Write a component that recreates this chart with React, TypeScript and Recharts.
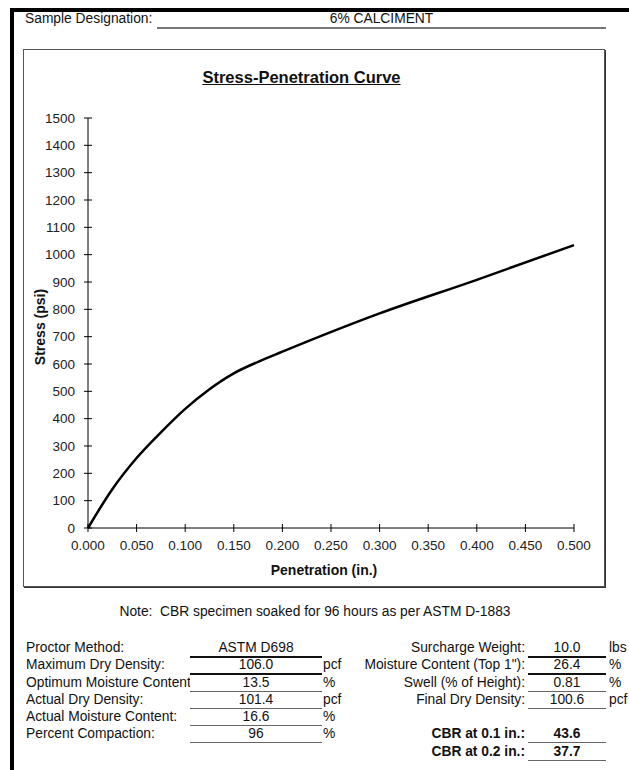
import { LineChart, Line, XAxis, YAxis, Label } from "recharts";

// stress-penetration readings
const penetration = [0, 0.025, 0.05, 0.075, 0.1, 0.125, 0.15, 0.175, 0.2, 0.3, 0.4, 0.5];
const stress = [0, 142, 256, 350, 436, 508, 566, 608, 645, 785, 908, 1035];

const xTicks = [0, 0.05, 0.1, 0.15, 0.2, 0.25, 0.3, 0.35, 0.4, 0.45, 0.5];
const yTicks = [0, 100, 200, 300, 400, 500, 600, 700, 800, 900, 1000, 1100, 1200, 1300, 1400, 1500];

const sampleName = "6% CALCIMENT";
const note = "Note:  CBR specimen soaked for 96 hours as per ASTM D-1883";

const leftLabels = [
  "Proctor Method:",
  "Maximum Dry Density:",
  "Optimum Moisture Content",
  "Actual Dry Density:",
  "Actual Moisture Content:",
  "Percent Compaction:",
];
const leftValues = ["ASTM D698", "106.0", "13.5", "101.4", "16.6", "96"];
const leftUnits = ["", "pcf", "%", "pcf", "%", "%"];

const rightLabels = ["Surcharge Weight:", 'Moisture Content (Top 1"):', "Swell (% of Height):", "Final Dry Density:"];
const rightValues = ["10.0", "26.4", "0.81", "100.6"];
const rightUnits = ["lbs", "%", "%", "pcf"];

const cbrLabels = ["CBR at 0.1 in.:", "CBR at 0.2 in.:"];
const cbrValues = ["43.6", "37.7"];

const curve = penetration.map((p, i) => ({ penetration: p, stress: stress[i] }));

const FONT = '"Liberation Sans", Arial, sans-serif';
const rowY = [648, 665, 682.5, 700, 716.5, 734, 752];

const XTick = (props: any) => {
  const { x, y, payload } = props;
  return (
    <g>
      <line x1={x} x2={x} y1={y - 4} y2={y + 4} stroke="#000" />
      <text x={x} y={y + 22} textAnchor="middle" fontSize={13.5} fill="#222" fontFamily={FONT}>
        {Number(payload.value).toFixed(3)}
      </text>
    </g>
  );
};

const YTick = (props: any) => {
  const { x, y, payload } = props;
  return (
    <g>
      <line x1={x - 4} x2={x + 4} y1={y} y2={y} stroke="#000" />
      <text x={x - 13} y={y + 4.8} textAnchor="end" fontSize={13.5} fill="#222" fontFamily={FONT}>
        {payload.value}
      </text>
    </g>
  );
};

function Txt({
  x,
  cy,
  children,
  align = "left",
  width,
  bold,
  clip,
}: {
  x: number;
  cy: number;
  children: any;
  align?: "left" | "right" | "center";
  width?: number;
  bold?: boolean;
  clip?: boolean;
}) {
  const w = width ?? 300;
  const left = align === "left" ? x : align === "right" ? x - w : x - w / 2;
  return (
    <div
      style={{
        position: "absolute",
        left,
        top: cy - 8,
        width: w,
        height: 16,
        lineHeight: "16px",
        fontSize: 13.8,
        fontWeight: bold ? "bold" : "normal",
        textAlign: align,
        whiteSpace: "pre",
        overflow: clip ? "hidden" : "visible",
        color: "#111",
      }}
    >
      {children}
    </div>
  );
}

function Rule({ x1, x2, y, heavy }: { x1: number; x2: number; y: number; heavy?: boolean }) {
  return (
    <div
      style={{
        position: "absolute",
        left: x1,
        top: y,
        width: x2 - x1,
        height: heavy ? 2 : 1,
        background: heavy ? "#111" : "#666",
      }}
    />
  );
}

export default function App() {
  return (
    <div
      style={{
        position: "absolute",
        left: 0,
        top: 0,
        width: 629,
        height: 770,
        background: "#fff",
        fontFamily: FONT,
        overflow: "hidden",
      }}
    >
      {/* sheet frame */}
      <div style={{ position: "absolute", left: 10, top: 8, width: 619, height: 4, background: "#000" }} />
      <div style={{ position: "absolute", left: 10, top: 8, width: 4, height: 762, background: "#000" }} />

      <Txt x={25} cy={19}>Sample Designation:</Txt>
      <Txt x={381.5} cy={19} align="center">
        {sampleName}
      </Txt>
      <div style={{ position: "absolute", left: 157, top: 27, width: 449, height: 1.5, background: "#777" }} />

      {/* chart frame */}
      <div
        style={{
          position: "absolute",
          left: 23,
          top: 49,
          width: 580,
          height: 536,
          border: "1px solid #555",
          boxShadow: "1px 1px 0 #333",
        }}
      />
      <div
        style={{
          position: "absolute",
          left: 0,
          top: 68,
          width: 603,
          textAlign: "center",
          fontSize: 16.5,
          fontWeight: "bold",
          textDecoration: "underline",
          lineHeight: "18px",
          color: "#111",
        }}
      >
        Stress-Penetration Curve
      </div>

      <div style={{ position: "absolute", left: 24, top: 50, width: 579, height: 535 }}>
        <LineChart width={579} height={535} data={curve} margin={{ top: 68, right: 29, bottom: 7, left: 0 }}>
          <XAxis
            type="number"
            dataKey="penetration"
            domain={[0, 0.5]}
            ticks={xTicks}
            tick={XTick}
            tickLine={false}
            tickSize={0}
            tickMargin={0}
            axisLine={{ stroke: "#000" }}
            height={50}
            interval={0}
          >
            <Label
              content={(p: any) => {
                const vb = p.viewBox;
                return (
                  <text
                    x={vb.x + vb.width / 2 - 7}
                    y={vb.y + 47}
                    textAnchor="middle"
                    fontSize={14}
                    fontWeight="bold"
                    fill="#111"
                    fontFamily={FONT}
                  >
                    Penetration (in.)
                  </text>
                );
              }}
            />
          </XAxis>
          <YAxis
            type="number"
            domain={[0, 1500]}
            ticks={yTicks}
            tick={YTick}
            tickLine={false}
            tickSize={0}
            tickMargin={0}
            axisLine={{ stroke: "#000" }}
            width={64}
            interval={0}
          >
            <Label
              content={(p: any) => {
                const vb = p.viewBox;
                const cy = vb.y + vb.height / 2 + 4;
                return (
                  <text
                    transform={`translate(${vb.x + 20.5}, ${cy}) rotate(-90)`}
                    textAnchor="middle"
                    fontSize={14}
                    fontWeight="bold"
                    fill="#111"
                    fontFamily={FONT}
                  >
                    Stress (psi)
                  </text>
                );
              }}
            />
          </YAxis>
          <Line
            type="monotone"
            dataKey="stress"
            stroke="#000"
            strokeWidth={2.5}
            dot={false}
            isAnimationActive={false}
          />
        </LineChart>
      </div>

      <Txt x={315} cy={612} align="center" width={500}>
        {note}
      </Txt>

      {/* left data block */}
      {leftLabels.map((l, i) => (
        <Txt key={"ll" + i} x={26} cy={rowY[i]} width={164} clip>
          {l}
        </Txt>
      ))}
      {leftValues.map((v, i) => (
        <Txt key={"lv" + i} x={256} cy={rowY[i]} align="center" width={130}>
          {v}
        </Txt>
      ))}
      {leftValues.map((_, i) => (
        <Rule key={"lr" + i} x1={190} x2={322} y={rowY[i] + 8} heavy={i < 2} />
      ))}
      {leftUnits.map((u, i) => (
        <Txt key={"lu" + i} x={323} cy={rowY[i]} width={40}>
          {u}
        </Txt>
      ))}

      {/* right data block */}
      {rightLabels.map((l, i) => (
        <Txt key={"rl" + i} x={525} cy={rowY[i]} align="right" width={200}>
          {l}
        </Txt>
      ))}
      {rightValues.map((v, i) => (
        <Txt key={"rv" + i} x={567} cy={rowY[i]} align="center" width={78}>
          {v}
        </Txt>
      ))}
      {rightValues.map((_, i) => (
        <Rule key={"rr" + i} x1={528} x2={606} y={rowY[i] + 8} heavy={i < 2} />
      ))}
      {rightUnits.map((u, i) => (
        <Txt key={"ru" + i} x={609} cy={rowY[i]} width={30}>
          {u}
        </Txt>
      ))}

      {cbrLabels.map((l, i) => (
        <Txt key={"cl" + i} x={525} cy={rowY[5 + i]} align="right" width={200} bold>
          {l}
        </Txt>
      ))}
      {cbrValues.map((v, i) => (
        <Txt key={"cv" + i} x={567} cy={rowY[5 + i]} align="center" width={78} bold>
          {v}
        </Txt>
      ))}
      {cbrValues.map((_, i) => (
        <Rule key={"cr" + i} x1={528} x2={606} y={rowY[5 + i] + 8} />
      ))}
    </div>
  );
}
